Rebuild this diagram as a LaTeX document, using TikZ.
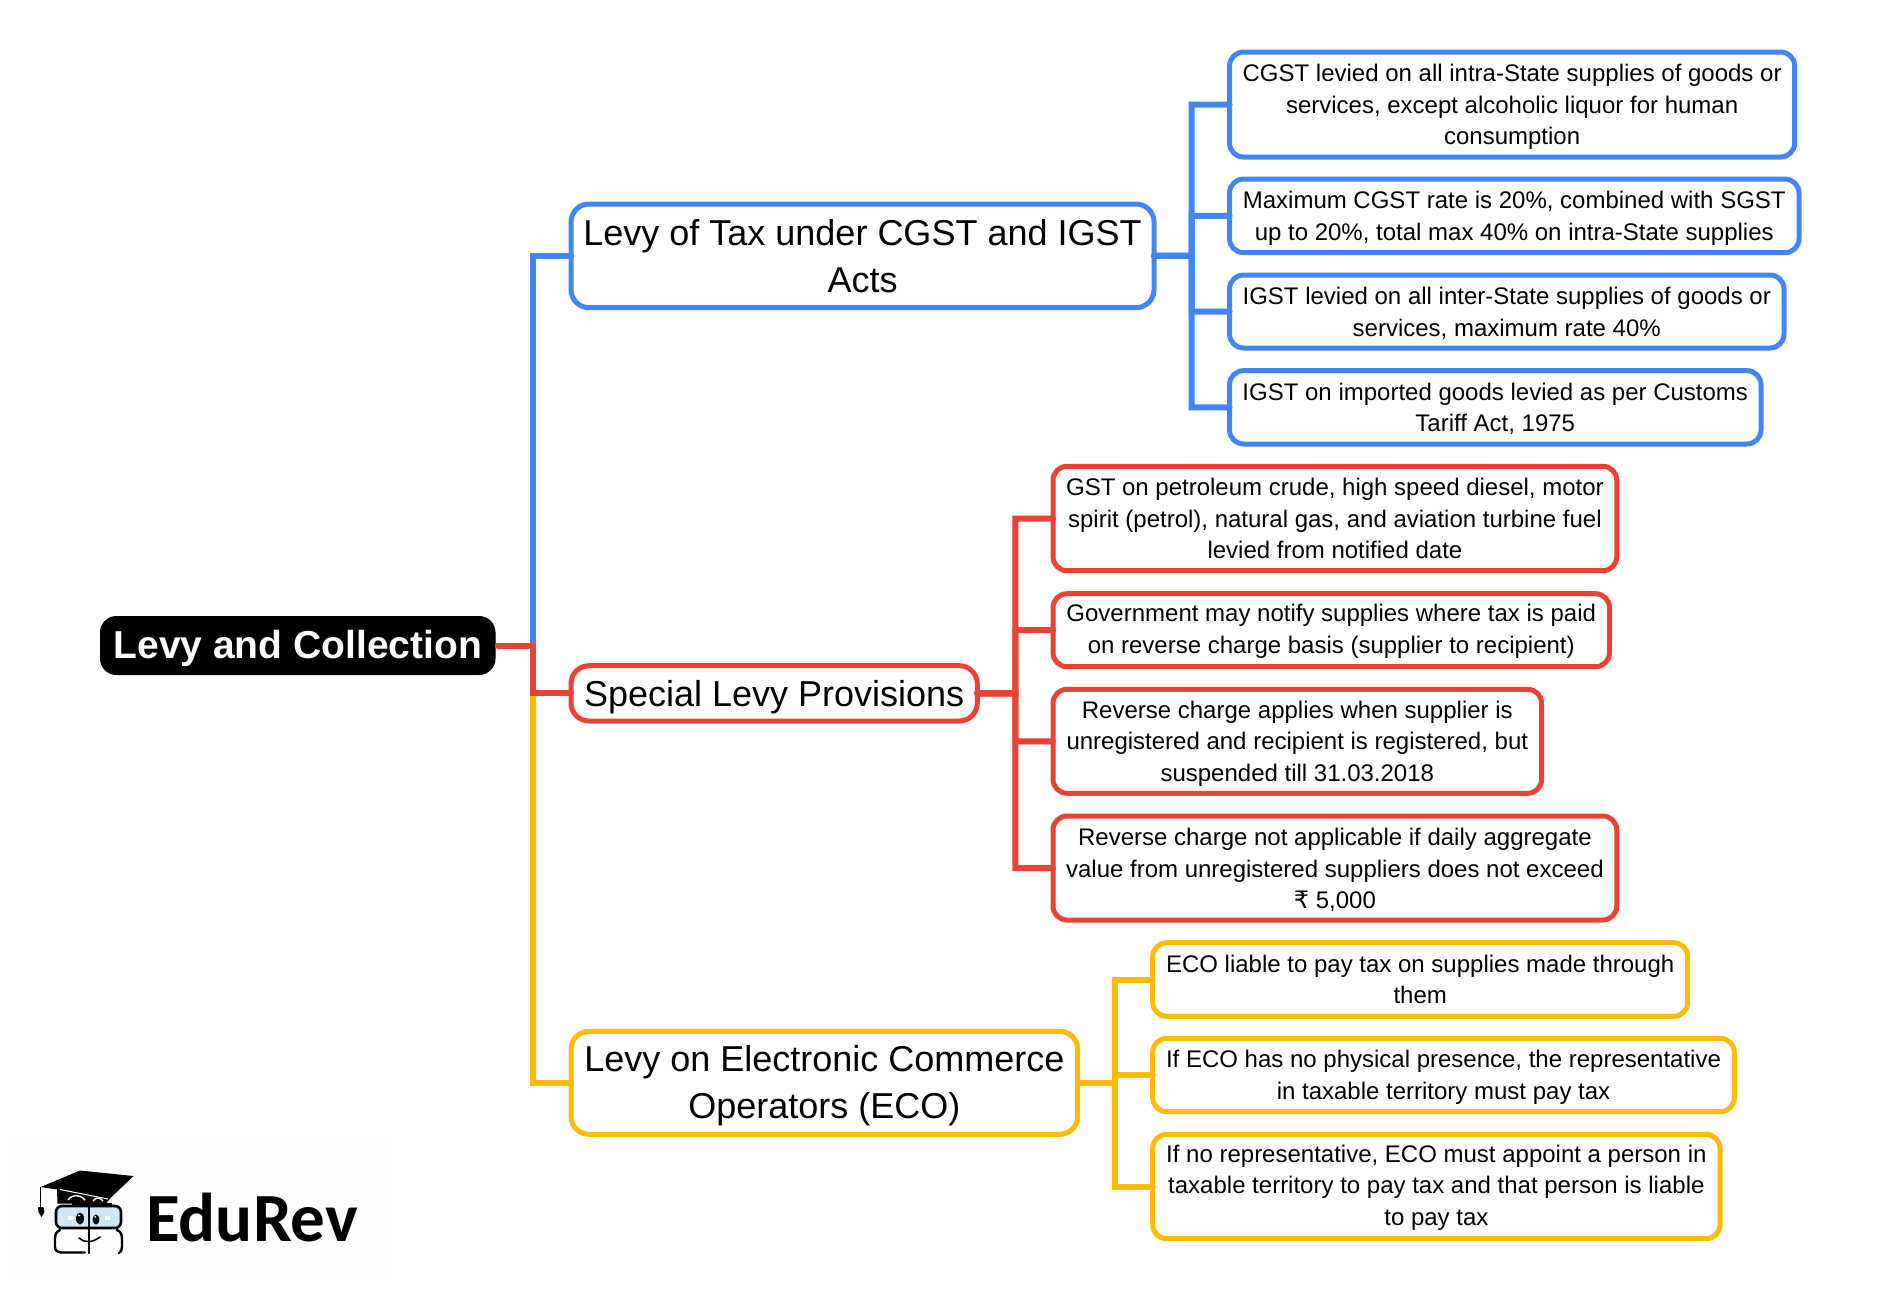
\documentclass[tikz,border=0pt]{standalone}
\usepackage{fontspec}
\setmainfont{Liberation Sans}
\newfontfamily\logofont{Carlito}
\newfontfamily\rupeefont{DejaVu Sans}
\newcommand{\topgap}[1]{\rule{0pt}{#1pt}}
\definecolor{cblue}{HTML}{4285F4}
\definecolor{cred}{HTML}{EA4335}
\definecolor{cyel}{HTML}{FBBC05}
\definecolor{glass}{HTML}{CFE6F5}
\definecolor{faint}{HTML}{FEFEFE}
\tikzset{
  box/.style={draw,fill=white,align=center,inner sep=0pt,outer sep=0pt,text=black},
  leaf/.style={box,line width=5pt,rounded corners=14pt,font=\fontsize{24}{31.4}\selectfont},
  mainbox/.style={box,line width=5pt,rounded corners=18pt,font=\fontsize{36}{46.6}\selectfont},
  rootbox/.style={draw=black,fill=black,text=white,align=center,inner sep=0pt,outer sep=0pt,rounded corners=16pt,line width=1pt,font=\fontsize{39}{46}\selectfont\bfseries},
  conn/.style={line width=6pt,line cap=round,miter limit=10},
  ink/.style={draw=black,line cap=round,line join=round}
}
\begin{document}
\begin{tikzpicture}[x=1pt,y=-1pt]
\useasboundingbox (0,0) rectangle (1902,1291);
\fill[white] (0,0) rectangle (1902,1291);
% logo backdrop
\fill[faint] (10,1143) rectangle (390,1275);
% nodes
\node[rootbox,minimum width=394.5pt,minimum height=58pt] (root) at (297.75,645.5) {\topgap{34.4}Levy and Collection};
\node[mainbox,draw=cblue,minimum width=583pt,minimum height=103.7pt] (A) at (862.5,255.85) {Levy of Tax under CGST and IGST\\Acts};
\node[mainbox,draw=cred,minimum width=406.3pt,minimum height=55.3pt] (B) at (774.15,693.35) {\topgap{33.2}Special Levy Provisions};
\node[mainbox,draw=cyel,minimum width=506.7pt,minimum height=103pt] (C) at (824.35,1082.8) {\topgap{32.2}Levy on Electronic Commerce\\Operators (ECO)};
\node[leaf,draw=cblue,minimum width=565.2pt,minimum height=105pt] (a1) at (1512.1,104.5) {\topgap{22.3}CGST levied on all intra-State supplies of goods or\\services, except alcoholic liquor for human\\consumption};
\node[leaf,draw=cblue,minimum width=569.5pt,minimum height=73.7pt] (a2) at (1514.25,215.85) {\topgap{22.3}Maximum CGST rate is 20\%, combined with SGST\\up to 20\%, total max 40\% on intra-State supplies};
\node[leaf,draw=cblue,minimum width=554.5pt,minimum height=73pt] (a3) at (1506.75,311.5) {\topgap{21.1}IGST levied on all inter-State supplies of goods or\\services, maximum rate 40\%};
\node[leaf,draw=cblue,minimum width=531.5pt,minimum height=73.3pt] (a4) at (1495.25,407.35) {\topgap{19.9}IGST on imported goods levied as per Customs\\Tariff Act, 1975};
\node[leaf,draw=cred,minimum width=563.8pt,minimum height=104.4pt] (b1) at (1334.9,518.5) {GST on petroleum crude, high speed diesel, motor\\spirit (petrol), natural gas, and aviation turbine fuel\\levied from notified date};
\node[leaf,draw=cred,minimum width=556.5pt,minimum height=73pt] (b2) at (1331.25,630.2) {\topgap{19.9}Government may notify supplies where tax is paid\\on reverse charge basis (supplier to recipient)};
\node[leaf,draw=cred,minimum width=488.6pt,minimum height=104pt] (b3) at (1297.3,741.3) {\topgap{22.3}Reverse charge applies when supplier is\\unregistered and recipient is registered, but\\suspended till 31.03.2018};
\node[leaf,draw=cred,minimum width=563.8pt,minimum height=104pt] (b4) at (1334.9,868) {\topgap{21.5}Reverse charge not applicable if daily aggregate\\value from unregistered suppliers does not exceed\\{\rupeefont ₹} 5,000};
\node[leaf,draw=cyel,minimum width=535pt,minimum height=73.6pt] (c1) at (1420.2,979.5) {ECO liable to pay tax on supplies made through\\them};
\node[leaf,draw=cyel,minimum width=581.6pt,minimum height=73.4pt] (c2) at (1443.5,1075) {\topgap{22.3}If ECO has no physical presence, the representative\\in taxable territory must pay tax};
\node[leaf,draw=cyel,minimum width=567.3pt,minimum height=104.4pt] (c3) at (1436.35,1186.5) {\topgap{19.9}If no representative, ECO must appoint a person in\\taxable territory to pay tax and that person is liable\\to pay tax};
% bus coordinates
\coordinate (trunk) at (533,645.5);
\coordinate (busa) at (1191.7,256);
\coordinate (busb) at (1015.3,693.5);
\coordinate (busc) at (1115.3,1082.8);
% trunk connectors
\draw[conn,cblue,shorten <=3pt] (root.east) -- (trunk) -- (trunk |- A.west) -- (A.west);
\draw[conn,cyel,shorten <=3pt] (root.east) -- (trunk) -- (trunk |- C.west) -- (C.west);
\draw[conn,cred,shorten <=3pt] (root.east) -- (trunk) -- (trunk |- B.west) -- (B.west);
% blue branches
\foreach \leafname in {a1,a2,a3,a4}
  \draw[conn,cblue] (A.east) -- (busa) -- (busa |- \leafname.west) -- (\leafname.west);
% red branches
\foreach \leafname in {b1,b2,b3,b4}
  \draw[conn,cred] (B.east) -- (busb) -- (busb |- \leafname.west) -- (\leafname.west);
% yellow branches
\foreach \leafname in {c1,c2,c3}
  \draw[conn,cyel] (C.east) -- (busc) -- (busc |- \leafname.west) -- (\leafname.west);
% logo wordmark
\node[anchor=base west,inner sep=0pt,font=\fontsize{69}{69}\selectfont\logofont\bfseries] (word) at (146,1241) {EduRev};
% mascot: cap
\fill[black] (40.7,1187) -- (80,1170.5) -- (133.5,1176) -- (110,1198.5) -- (106,1203.5) -- (57.5,1203.5) -- (57,1189.5) -- cycle;
\draw[white,line width=1pt] (60,1189.5) -- (108,1199);
\draw[white,line width=1.4pt] (68,1200) .. controls (72,1194) and (80,1194) .. (85,1200);
\draw[white,line width=1.4pt] (93,1201) .. controls (96,1197) and (100,1197) .. (103,1201);
% tassel
\draw[black,line width=1.4pt] (40.7,1187) -- (40.7,1207);
\fill[black] (38,1207) -- (43.5,1207) -- (44.5,1212) -- (41.5,1217) -- (38.5,1212) -- cycle;
% glasses
\draw[ink,line width=2.6pt,fill=glass,rounded corners=6pt] (56,1206) rectangle (121,1228);
\draw[ink,line width=2pt] (88.5,1203) -- (88.5,1253);
\draw[black,line width=2pt] (72,1203.5) -- (112,1203.5);
% eyes
\fill[black] (80,1218.5) ellipse (4pt and 6pt);
\fill[black] (96,1219.5) ellipse (3.4pt and 5pt);
\fill[white] (79,1215.5) circle (1.2pt);
\fill[white] (95.2,1216.8) circle (1pt);
% window glints
\fill[white] (68,1215.5) rectangle (70.5,1217.5);
\fill[white] (71,1215.5) rectangle (73,1217.5);
\fill[white] (68,1218) rectangle (70.5,1220);
\fill[white] (71,1218) rectangle (73,1220);
\fill[white] (104.5,1215.5) rectangle (106.5,1217.5);
\fill[white] (107,1215.5) rectangle (109.5,1217.5);
\fill[white] (104.5,1218) rectangle (106.5,1220);
\fill[white] (107,1218) rectangle (109.5,1220);
% lower face
\draw[ink,line width=2.4pt] (60,1230) .. controls (55,1232) and (55,1236) .. (55,1240) -- (55,1247) .. controls (55,1251) and (58,1252.5) .. (62,1252.5) -- (85,1252.5);
\draw[ink,line width=2.4pt] (117,1230) .. controls (122,1232) and (122,1236) .. (122,1240) -- (122,1247) .. controls (122,1250) and (121,1252) .. (119,1253);
\draw[ink,line width=1.6pt] (79,1238) .. controls (84,1243) and (92,1243) .. (100,1237);
\end{tikzpicture}
\end{document}
